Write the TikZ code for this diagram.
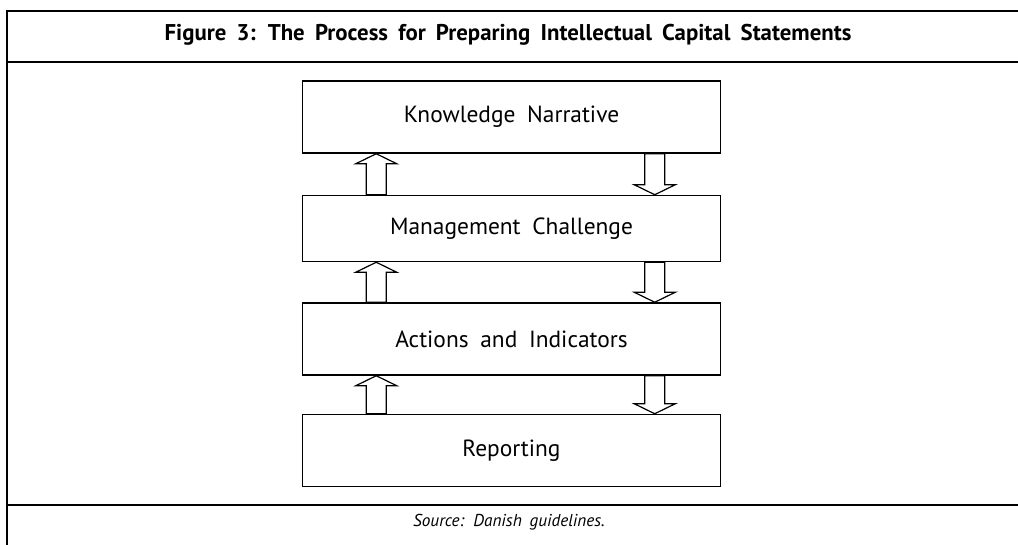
\documentclass[tikz,border=0pt]{standalone}
\usepackage{fontspec}
\setmainfont{PT Sans}
\usetikzlibrary{calc,positioning}

\newcommand{\widespace}[1]{\spaceskip #1\relax}

\begin{document}
\begin{tikzpicture}[
    x=0.5pt, y=-0.5pt,
    node distance=20.5pt,
    every node/.style={inner sep=0pt},
    stage/.style={
        rectangle,
        draw,
        line width=0.75pt,
        align=center,
        minimum width=209pt,
        minimum height=36pt,
        font=\fontsize{11.7}{13}\selectfont\widespace{0.5em}
    },
    frameline/.style={line width=1pt},
    blockarrow/.style={draw, line width=0.6pt, fill=white}
]

\useasboundingbox (0,0) rectangle (1018,545);

% =========================================================
% FRAME
% =========================================================

\draw[frameline] (1018,11) -- (6.5,11) -- (6.5,545);
\draw[frameline] (6.5,62) -- (1018,62);
\draw[frameline] (6.5,505) -- (1018,505);

\node[font=\bfseries\fontsize{11.4}{13}\selectfont\widespace{0.45em}, anchor=base]
    (title) at (508,41)
    {Figure 3: The Process for Preparing Intellectual Capital Statements};

\node[font=\itshape\fontsize{8.6}{10}\selectfont\widespace{0.45em}, anchor=base]
    (source) at (509,526)
    {Source: Danish guidelines.};

% =========================================================
% STAGES
% =========================================================

\node[stage] (narrative) at (511.5,117) {Knowledge Narrative};

\node[stage, below=of narrative, minimum height=33pt] (challenge) {Management Challenge};

\node[stage, below=20pt of challenge] (actions) {Actions and Indicators};

\node[stage, below=19pt of actions] (reporting) {Reporting};

% =========================================================
% BLOCK ARROWS
% =========================================================

\foreach \lower/\upper in {challenge/narrative, actions/challenge, reporting/actions}{
    % upward arrow on the left
    \coordinate (ubase) at ([xshift=37.25pt]\lower.north west);
    \coordinate (utip) at (ubase |- \upper.south);
    \draw[blockarrow]
        ($(ubase)+(-10,0)$) -- ($(utip)+(-10,10)$) -- ($(utip)+(-20.5,10)$)
        -- (utip)
        -- ($(utip)+(20.5,10)$) -- ($(utip)+(10,10)$) -- ($(ubase)+(10,0)$) -- cycle;

    % downward arrow on the right
    \coordinate (dbase) at ([xshift=-33.25pt]\upper.south east);
    \coordinate (dtip) at (dbase |- \lower.north);
    \draw[blockarrow]
        ($(dbase)+(-10,0)$) -- ($(dtip)+(-10,-10)$) -- ($(dtip)+(-20.5,-10)$)
        -- (dtip)
        -- ($(dtip)+(20.5,-10)$) -- ($(dtip)+(10,-10)$) -- ($(dbase)+(10,0)$) -- cycle;
}

\end{tikzpicture}
\end{document}
